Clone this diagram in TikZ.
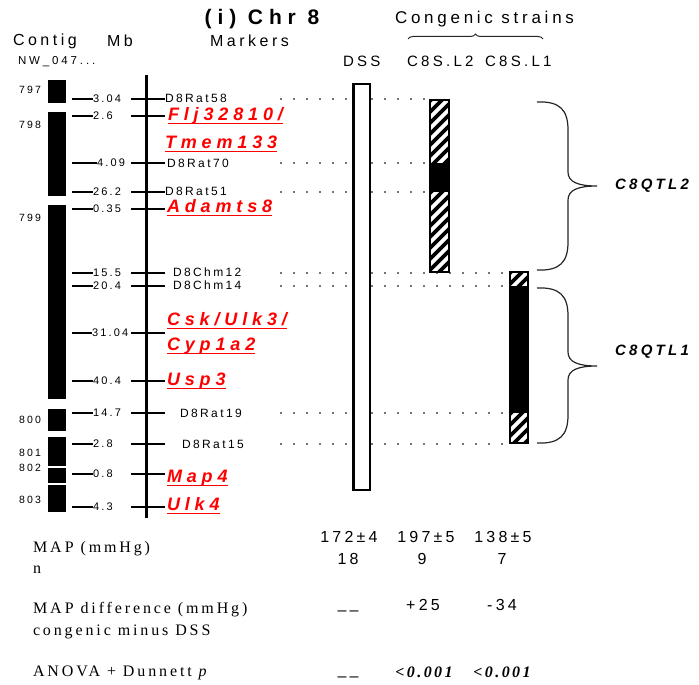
\documentclass[tikz,border=0pt]{standalone}
\usepackage{fontspec}
\setmainfont{Liberation Serif}
\newfontfamily\ttlfont[LetterSpace=28]{Liberation Sans}
\newfontfamily\hdrfont[LetterSpace=22]{Liberation Sans}
\newfontfamily\mkfont[LetterSpace=20]{Liberation Sans}
\newfontfamily\nwfont[LetterSpace=25]{Liberation Sans}
\newfontfamily\redfont[LetterSpace=27]{Liberation Sans}
\newfontfamily\qtlfont[LetterSpace=22]{Liberation Sans}
\newfontfamily\botfont[LetterSpace=18]{Liberation Serif}
\newfontfamily\pvfont[LetterSpace=15]{Liberation Serif}
\newfontfamily\numfont[LetterSpace=20]{Liberation Sans}
\usetikzlibrary{decorations.pathreplacing}

\tikzset{
 txt/.style={inner sep=0pt, outer sep=0pt},
 hdr/.style={txt, anchor=west, font=\fontsize{16}{17}\hdrfont},
 shdr/.style={txt, anchor=west, font=\fontsize{15}{16}\hdrfont},
 ctg/.style={txt, font=\fontsize{10.5}{11}\mkfont},
 mbn/.style={txt, anchor=west, font=\fontsize{11}{12}\mkfont},
 mk/.style={txt, anchor=west, font=\fontsize{12}{13}\mkfont},
 rmk/.style={txt, anchor=base west, text=red, font=\fontsize{18}{19}\redfont\bfseries\itshape},
 ul/.style={red, line width=1.3pt},
 tick/.style={line width=1.6pt},
 dots/.style={black!55, line width=2.2pt, dash pattern=on 2.2pt off 10.8pt},
 brc/.style={black!85, line width=1.2pt},
 bot/.style={txt, anchor=west, font=\fontsize{16}{17}\botfont},
 num/.style={txt, font=\fontsize{16}{17}\numfont},
 pval/.style={txt, font=\fontsize{16}{17}\pvfont\bfseries\itshape},
 qtl/.style={txt, anchor=west, font=\fontsize{15}{16}\qtlfont\bfseries\itshape},
}

\newcommand\hatchbar[4]{%
  \begin{scope}
    \clip (#1,#2) rectangle (#3,#4);
    \fill[white] (#1,#2) rectangle (#3,#4);
    \foreach \k in {0,...,22} \draw[line width=3.6pt] (#1-10,#2+\k*11) -- ++(40,-40);
  \end{scope}}

\newcommand\qtlbrace[3]{%
 \draw[brc] (537,#1) .. controls (560,#1-1) and (568,#1+8) .. (568,#1+28)
   -- (568,#2-14) .. controls (568,#2-4) and (578,#2) .. (597,#2)
   .. controls (578,#2) and (568,#2+4) .. (568,#2+14)
   -- (568,#3-28) .. controls (568,#3-8) and (560,#3+1) .. (537,#3);}

\begin{document}
\begin{tikzpicture}[x=1pt,y=-1pt]
\useasboundingbox (0,0) rectangle (699,685);

% headers
\node[txt, font=\fontsize{21}{22}\ttlfont\bfseries] (title) at (262,19) {(i) Chr 8};
\node[hdr] (hcontig) at (13,41) {Contig};
\node[hdr] (hmb) at (107,41) {Mb};
\node[hdr] (hmark) at (210,41) {Markers};
\node[txt, anchor=west, font=\fontsize{11.5}{12}\nwfont] (nw) at (18,62) {NW\_047...};
\node[hdr, font=\fontsize{17}{18}\hdrfont] (hcong) at (395,19) {Congenic strains};
\draw[brc, line width=1pt, decorate, decoration={brace, amplitude=5pt}] (408,39) -- (543,39);
\node[shdr] (hdss) at (343,61) {DSS};
\node[shdr] (hl2) at (407,61) {C8S.L2};
\node[shdr] (hl1) at (485,61) {C8S.L1};

% contigs
\fill (48,80) rectangle (66,103);
\fill (48,112) rectangle (66,196);
\fill (48,205) rectangle (66,399);
\fill (48,409) rectangle (66,431);
\fill (48,437) rectangle (66,466);
\fill (48,468) rectangle (66,483);
\fill (48,485) rectangle (66,512);
\node[ctg] (c797) at (30,90) {797};
\node[ctg] (c798) at (30,125) {798};
\node[ctg] (c799) at (30,218) {799};
\node[ctg] (c800) at (30,420) {800};
\node[ctg] (c801) at (30,453) {801};
\node[ctg] (c802) at (30,468) {802};
\node[ctg] (c803) at (30,500) {803};

% chromosome
\draw[line width=3pt] (146,75) -- (146,518);
\foreach \y/\n/\xn in {99/3.04/93, 116/2.6/93, 163/4.09/97, 192/26.2/93, 209/0.35/93, 273/15.5/93, 286/20.4/93, 333/31.04/92, 381/40.4/93, 413/14.7/93, 444/2.8/93, 474/0.8/93, 507/4.3/93} {
  \draw[tick] (72,\y) -- (\xn,\y);
  \node[mbn] (mb\y) at (\xn,\y) {\n};
  \draw[tick] (131,\y) -- (165,\y);
}

% markers
\node[mk] (m58) at (165,98) {D8Rat58};
\node[mk] (m70) at (167,163) {D8Rat70};
\node[mk] (m51) at (165,191) {D8Rat51};
\node[mk] (mc12) at (173,272) {D8Chm12};
\node[mk] (mc14) at (173,285) {D8Chm14};
\node[mk] (m19) at (180,413) {D8Rat19};
\node[mk] (m15) at (182,444) {D8Rat15};

\node[rmk] (r1) at (168,120) {Flj32810/};
\node[rmk] (r2) at (165,148) {Tmem133};
\node[rmk] (r3) at (167,212) {Adamts8};
\node[rmk] (r4) at (167,325) {Csk/Ulk3/};
\node[rmk] (r5) at (167,350) {Cyp1a2};
\node[rmk] (r6) at (167,385) {Usp3};
\node[rmk] (r7) at (167,482) {Map4};
\node[rmk] (r8) at (167,510) {Ulk4};
\foreach \i in {1,...,8} \draw[ul] ([yshift=-3.5pt]r\i.base west) -- ([yshift=-3.5pt]r\i.base east);

% dotted guides
\foreach \y/\xe in {99/430, 163/430, 192/430, 273/510, 286/510, 413/510, 444/510} \draw[dots] (280,\y) -- (\xe,\y);

% DSS bar
\draw[line width=1.5pt, fill=white] (353,84) rectangle (370,490);
\draw[line width=1.5pt] (354.5,84) -- (354.5,490);

% C8S.L2
\hatchbar{430}{100}{449}{163}
\fill (430,163) rectangle (449,192);
\hatchbar{430}{192}{449}{272}
\draw[line width=1.3pt] (430,100) rectangle (449,272);

% C8S.L1
\hatchbar{510}{272}{528}{286}
\fill (510,286) rectangle (528,413);
\hatchbar{510}{413}{528}{443}
\draw[line width=1.3pt] (510,272) rectangle (528,443);

% QTL braces
\qtlbrace{102}{186}{270}
\qtlbrace{288}{366}{443}
\node[qtl] (q2) at (615,186) {C8QTL2};
\node[qtl] (q1) at (615,352) {C8QTL1};

% bottom table
\node[bot] (b1) at (33,549) {M\kern3pt A\kern3pt P (mmHg)};
\node[bot] (b2) at (33,570) {n};
\node[bot] (b3) at (33,610) {M\kern3pt A\kern3pt P difference (mmHg)};
\node[bot] (b4) at (33,632) {congenic minus DSS};
\node[bot] (b5) at (33,673) {ANOVA + Dunnett \textit{p}};

\node[num] (v1) at (349,537) {172±4};
\node[num] (v2) at (426,537) {197±5};
\node[num] (v3) at (503,537) {138±5};
\node[num] (n1) at (348,559) {18};
\node[num] (n2) at (422,559) {9};
\node[num] (n3) at (502,559) {7};
\node[num] (d1) at (348,613) {\textendash\textendash};
\node[num] (d2) at (423,605) {+25};
\node[num] (d3) at (502,605) {-34};
\node[num] (p1) at (348,679) {\textendash\textendash};
\node[pval] (p2) at (424,672) {<0.001};
\node[pval] (p3) at (502,672) {<0.001};
\end{tikzpicture}
\end{document}
